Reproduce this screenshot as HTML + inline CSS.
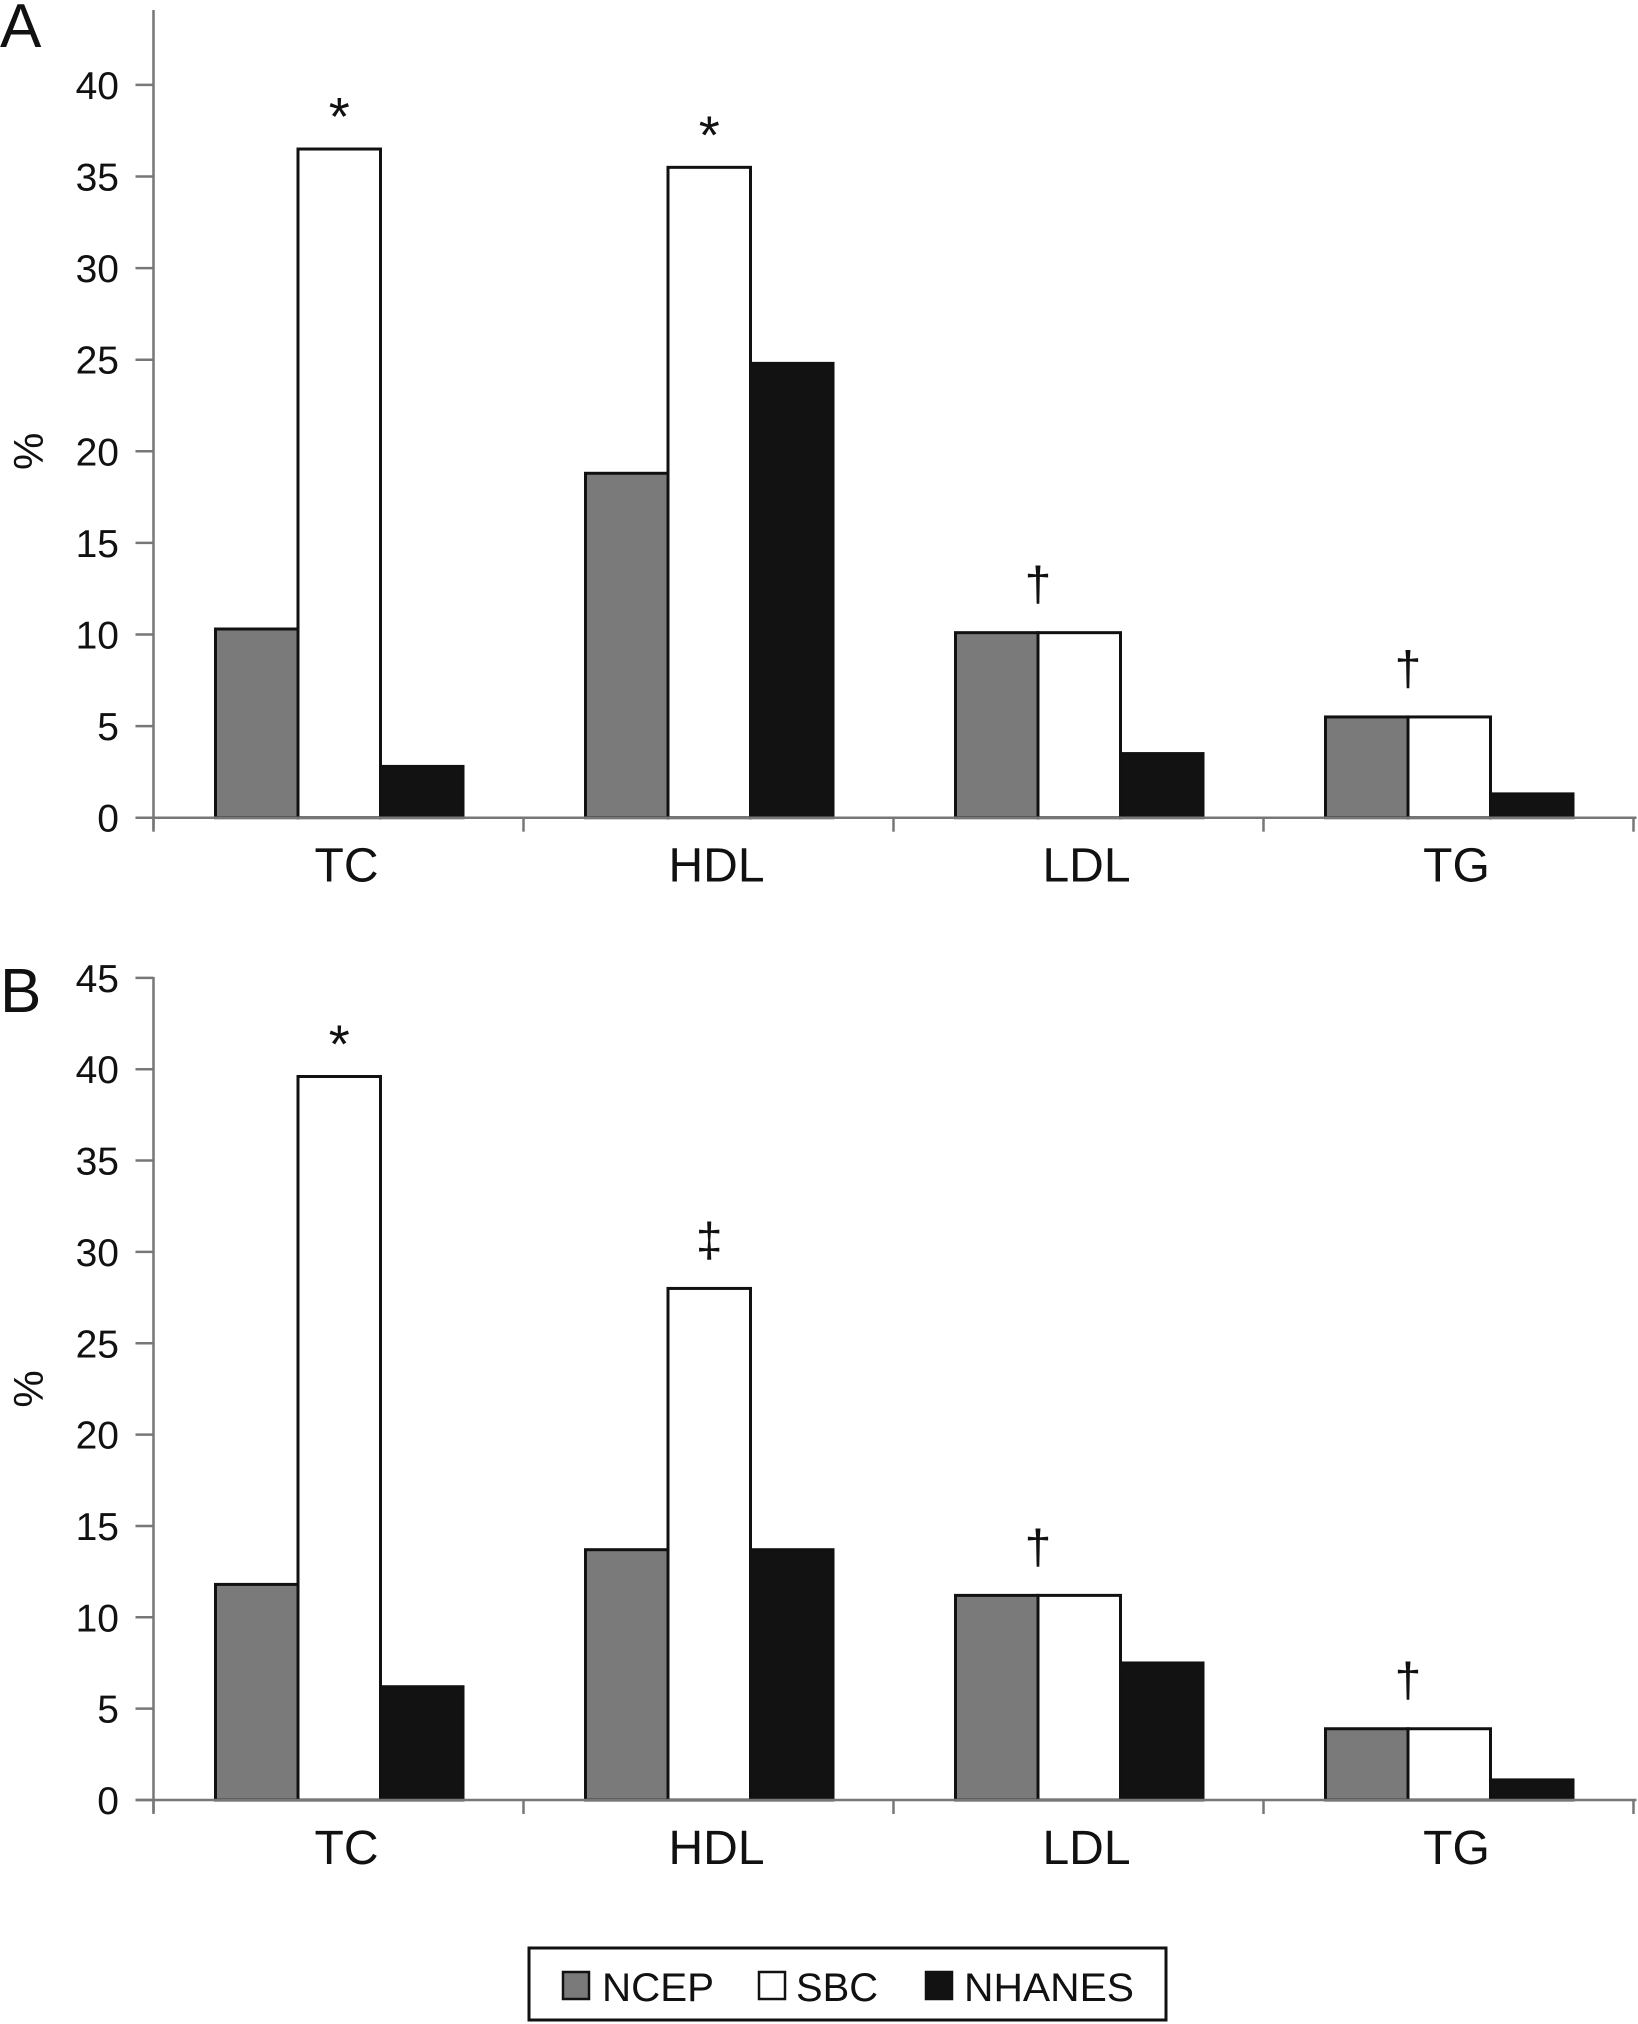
<!DOCTYPE html>
<html><head><meta charset="utf-8"><style>
html,body{margin:0;padding:0;background:#fff;}
svg{display:block;font-family:"Liberation Sans",sans-serif;}
</style></head><body>
<svg id="chart" width="1638" height="2024" viewBox="0 0 1638 2024" xmlns="http://www.w3.org/2000/svg"></svg>
<script>
const categories = ["TC","HDL","LDL","TG"];
const seriesNames = ["NCEP","SBC","NHANES"];
const ncepA = [10.3, 18.8, 10.1, 5.5];
const sbcA = [36.5, 35.5, 10.1, 5.5];
const nhanesA = [2.8, 24.8, 3.5, 1.3];
const ncepB = [11.8, 13.7, 11.2, 3.9];
const sbcB = [39.6, 28.0, 11.2, 3.9];
const nhanesB = [6.2, 13.7, 7.5, 1.1];
const ticksA = [0,5,10,15,20,25,30,35,40];
const ticksB = [0,5,10,15,20,25,30,35,40,45];
const annotA = ["*","*","\u2020","\u2020"];
const annotB = ["*","\u2021","\u2020","\u2020"];

const NS = "http://www.w3.org/2000/svg";
const svg = document.getElementById("chart");
const fills = ["#7a7a7a","#ffffff","#121212"];
function mk(tag, attrs, parent){
  const e = document.createElementNS(NS, tag);
  for (const k in attrs) e.setAttribute(k, attrs[k]);
  (parent||svg).appendChild(e);
  return e;
}
const axisX = 153.5, catW = 370, barW = 82.5, barOff = 62;

function panel(key, label, y0, unit, axisTop, ticks, series, annots, labelY){
  const g = mk("g", {});
  
  
  const yS = v => y0 - v*unit;
  const xS = i => axisX + i*catW;
  const pl = mk("text", {x:0, y:labelY, "font-size":62, fill:"#111"}, g);
  pl.textContent = label;
  
  
  const yl = mk("text", {x:0, y:0, "font-size":42, fill:"#111", "text-anchor":"middle",
    transform:"translate(43," + (yS(ticks[ticks.length-1]/2)+0) + ") rotate(-90)"}, g);
  yl.textContent = "%";
  
  
  const ya = mk("line", {x1:axisX, x2:axisX, y1:axisTop, y2:y0+12, stroke:"#777", "stroke-width":2.5}, g);
  
  
  ticks.forEach(t => {
    const tl = mk("line", {x1:axisX-18, x2:axisX, y1:yS(t), y2:yS(t), stroke:"#777", "stroke-width":2.5}, g);
    
    
    const tx = mk("text", {x:119, y:yS(t)+14, "font-size":39, fill:"#111", "text-anchor":"end"}, g);
    tx.textContent = t;
    
    
  });
  categories.forEach((c,i) => {
    series.forEach((s,j) => {
      const v = s[i];
      const r = mk("rect", {x:xS(i)+barOff+j*barW, y:yS(v), width:barW, height:v*unit,
        fill:fills[j], stroke:"#111", "stroke-width":3}, g);
      
      
    });
    const top = Math.max(series[0][i], series[1][i]);
    const a = annots[i];
    let ax = (a === "*" || a === "\u2021") ? xS(i)+barOff+1.5*barW : xS(i)+barOff+barW;
    let ay = a === "*" ? yS(top) - 40 + 26 : yS(top) - 50 + 18;
    const an = mk("text", {x:ax, y:ay, "font-size":a === "*" ? 54 : 48, fill:"#111", "text-anchor":"middle"}, g);
    an.textContent = a;
    
    
    const cl = mk("text", {x:xS(i)+catW/2 + 8, y:y0+64, "font-size":48, fill:"#111", "text-anchor":"middle"}, g);
    cl.textContent = c;
    
    
  });
  const xa = mk("line", {x1:axisX-18, x2:axisX+4*catW+3, y1:y0, y2:y0, stroke:"#777", "stroke-width":2.5}, g);
  
  
  for (let i=0;i<=categories.length;i++){
    const xt = mk("line", {x1:xS(i), x2:xS(i), y1:y0, y2:y0+14, stroke:"#777", "stroke-width":2.5}, g);
    
    
  }
}
panel("a", "A", 817.7, 18.32, 10, ticksA, [ncepA, sbcA, nhanesA], annotA, 47);
panel("b", "B", 1800, 18.27, 977, ticksB, [ncepB, sbcB, nhanesB], annotB, 1012);

// legend
const lg = mk("g", {});


const lb = mk("rect", {x:529, y:1948, width:637, height:72, fill:"#fff", stroke:"#111", "stroke-width":3}, lg);


const sqX = [563, 759, 926];
const txX = [602, 796, 964];
const txW = [112, 82, 170];
seriesNames.forEach((n,j) => {
  const sq = mk("rect", {x:sqX[j], y:1972, width:26, height:27, fill:fills[j], stroke:"#111", "stroke-width":2.5}, lg);
  
  
  const t = mk("text", {x:txX[j], y:2001, "font-size":40, fill:"#111", textLength:txW[j], lengthAdjust:"spacingAndGlyphs"}, lg);
  t.textContent = n;
  
  
});
</script>
</body></html>
